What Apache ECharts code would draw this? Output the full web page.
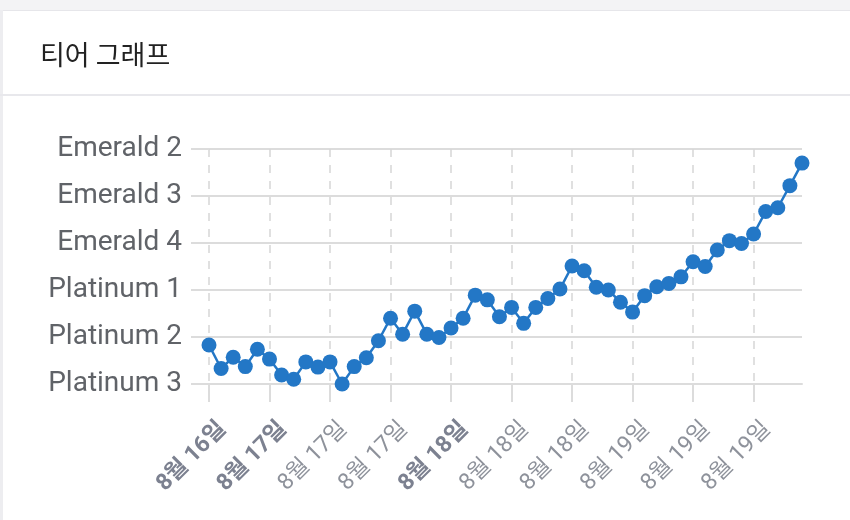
<!DOCTYPE html>
<html><head><meta charset="utf-8">
<script src="https://cdn.jsdelivr.net/npm/echarts@6/dist/echarts.min.js"></script>
<style>html,body{margin:0;padding:0;background:#fff;}#c{width:850px;height:520px;}</style>
</head><body><div id="c"></div>
<script>
const titleText = '티어 그래프';
const tierLabels = ['Platinum 3','Platinum 2','Platinum 1','Emerald 4','Emerald 3','Emerald 2'];
const categories = [
 '8월 16일','8월 16일','8월 16일','8월 16일','8월 16일',
 '8월 17일','8월 17일','8월 17일','8월 17일','8월 17일',
 '8월 17일','8월 17일','8월 17일','8월 17일','8월 17일',
 '8월 17일','8월 17일','8월 17일','8월 17일','8월 17일',
 '8월 18일','8월 18일','8월 18일','8월 18일','8월 18일',
 '8월 18일','8월 18일','8월 18일','8월 18일','8월 18일',
 '8월 18일','8월 18일','8월 18일','8월 18일','8월 18일',
 '8월 19일','8월 19일','8월 19일','8월 19일','8월 19일',
 '8월 19일','8월 19일','8월 19일','8월 19일','8월 19일',
 '8월 19일','8월 19일','8월 19일','8월 19일','8월 19일'
];
const boldLabelIdx = [0, 5, 20];
const lp = [83,33,57,37,74,53,19,10,47,36,
            47,0,37,56,92,140,106,155,106,99,
            119,140,189,179,143,163,129,163,182,202,
            251,241,206,200,174,153,188,207,214,228,
            260,250,285,305,299,319,367,375,422,470];

const chart = echarts.init(document.getElementById('c'));
chart.setOption({
  backgroundColor: '#fff',
  animation: false,
  title: {
    text: titleText, left: 35, top: 36,
    textStyle: {fontFamily: 'Noto Sans CJK KR', fontSize: 27, fontWeight: 'normal', color: '#222'}
  },
  graphic: [
    {type: 'rect', shape: {x: 0, y: 0, width: 850, height: 10}, style: {fill: '#f3f3f5'}, silent: true},
    {type: 'rect', shape: {x: 0, y: 10, width: 850, height: 1}, style: {fill: '#e6e6ea'}, silent: true},
    {type: 'rect', shape: {x: 0, y: 10, width: 3, height: 510}, style: {fill: '#ededf0'}, silent: true},
    {type: 'rect', shape: {x: 0, y: 94, width: 850, height: 2}, style: {fill: '#e8e8ec'}, silent: true}
  ],
  grid: {left: 209, right: 48, top: 149, bottom: 136, containLabel: false},
  xAxis: {
    type: 'category', data: categories, boundaryGap: false,
    axisLine: {show: true, lineStyle: {color: '#dcdcdc', width: 2}},
    axisTick: {show: true, interval: 4, length: 18, lineStyle: {color: '#dcdcdc', width: 2}},
    splitLine: {show: true, interval: 4, lineStyle: {color: '#d6d6d6', width: 1.5, type: [8, 8]}},
    axisLabel: {
      interval: 4, rotate: 45, margin: 28,
      verticalAlign: 'top', padding: [8, 0, 0, 0],
      fontFamily: 'Roboto, "Noto Sans CJK KR"', fontSize: 23, color: '#8e929b',
      formatter: (v, i) => boldLabelIdx.includes(i) ? '{b|' + v + '}' : v,
      rich: {b: {fontFamily: 'Roboto, "Noto Sans CJK KR"', fontSize: 23, fontWeight: 'bold', color: '#7c8190'}}
    }
  },
  yAxis: {
    type: 'value', min: 0, max: 500, interval: 100,
    axisLine: {show: false},
    axisTick: {show: true, length: 18, lineStyle: {color: '#dcdcdc', width: 2}},
    splitLine: {show: true, lineStyle: {color: '#dcdcdc', width: 2}},
    axisLabel: {
      margin: 27, fontFamily: 'Roboto', fontSize: 28, color: '#606368',
      formatter: v => tierLabels[Math.round(v / 100)]
    }
  },
  series: [{
    type: 'line', data: lp,
    symbol: 'circle', symbolSize: 15, showAllSymbol: true,
    lineStyle: {color: '#2377c6', width: 2.5},
    itemStyle: {color: '#2377c6'}
  }]
});
</script></body></html>
